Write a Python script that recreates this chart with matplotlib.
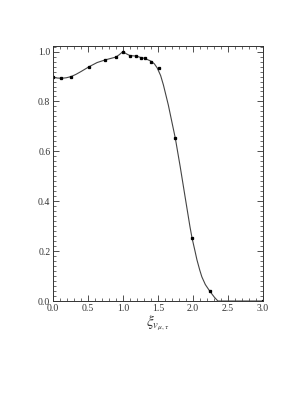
import matplotlib
matplotlib.use("Agg")
import matplotlib.pyplot as plt
from matplotlib.ticker import MultipleLocator

plt.rcParams['font.family'] = ['Liberation Serif', 'DejaVu Serif']
plt.rcParams['mathtext.fontset'] = 'stix'

# sampled points (markers)
pts_x = [0.0, 0.12, 0.26, 0.52, 0.75, 0.90, 1.00, 1.10, 1.19, 1.26, 1.31, 1.40, 1.51, 1.75, 1.99, 2.24, 3.0]
pts_y = [0.897, 0.893, 0.900, 0.940, 0.967, 0.978, 1.000, 0.984, 0.982, 0.976, 0.973, 0.960, 0.936, 0.653, 0.252, 0.041, 0.0]

# curve
curve_x = [0.0, 0.06, 0.12, 0.19, 0.26, 0.33, 0.40, 0.52, 0.63, 0.75, 0.90, 0.95, 1.00, 1.05, 1.10, 1.19,
           1.26, 1.31, 1.40, 1.45, 1.49, 1.54, 1.58, 1.65, 1.71, 1.75, 1.82, 1.89, 1.96, 1.99, 2.03,
           2.06, 2.10, 2.13, 2.18, 2.24, 2.28, 2.31, 2.34, 2.36, 3.0]
curve_y = [0.897, 0.894, 0.893, 0.895, 0.900, 0.909, 0.920, 0.940, 0.956, 0.967, 0.978, 0.988, 1.000, 0.991,
           0.984, 0.982, 0.976, 0.973, 0.962, 0.951, 0.935, 0.904, 0.866, 0.786, 0.706, 0.653, 0.539,
           0.418, 0.298, 0.252, 0.203, 0.165, 0.124, 0.097, 0.066, 0.041, 0.026, 0.015, 0.006, 0.0, 0.0]

fig = plt.figure(figsize=(3.05, 3.94), dpi=100)
ax = fig.add_axes([0.174, 0.236, 0.687, 0.647])

ax.plot(curve_x, curve_y, color='#444444', lw=0.8)
ax.plot(pts_x, pts_y, 's', color='black', ms=1.4)

ax.set_xlim(0, 3.0)
ax.set_ylim(0, 1.022)
ax.xaxis.set_major_locator(MultipleLocator(0.5))
ax.xaxis.set_minor_locator(MultipleLocator(0.1))
ax.yaxis.set_major_locator(MultipleLocator(0.2))
ax.yaxis.set_minor_locator(MultipleLocator(0.02))
ax.xaxis.set_major_formatter(plt.FuncFormatter(lambda v, p: f"{v:.1f}"))
ax.yaxis.set_major_formatter(plt.FuncFormatter(lambda v, p: f"{v:.1f}"))
ax.tick_params(which='both', direction='in', top=True, right=True, labelsize=7,
               colors='#333333', pad=2)
ax.tick_params(which='major', length=4, width=0.6)
ax.tick_params(which='minor', length=2, width=0.5)
for s in ax.spines.values():
    s.set_linewidth(0.7)
    s.set_color('#333333')

ax.set_xlabel(r'$\xi_{v_{\mu,\tau}}$', fontsize=11, labelpad=1, color='#333333')

fig.savefig('out.png', dpi=100)
